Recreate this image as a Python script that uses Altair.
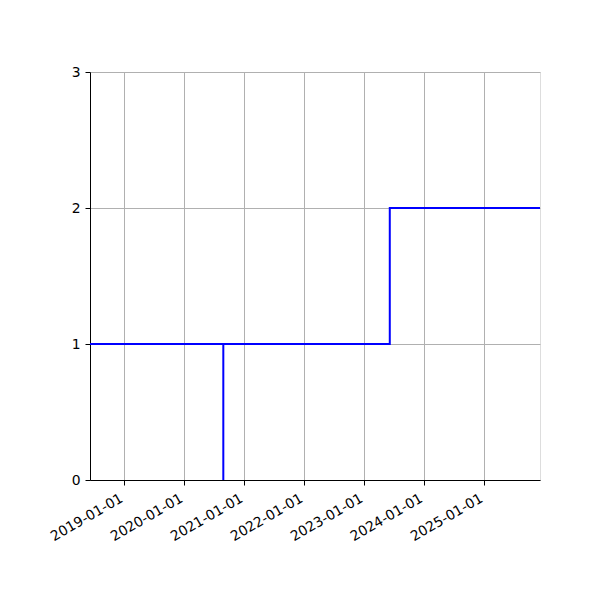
import altair as alt
import pandas as pd

# step data (step-after)
dates = ["2018-06-08T00:00", "2020-08-28T00:00", "2020-08-28T00:00", "2023-06-08T00:00", "2025-12-09T00:00"]
values = [1, 0, 1, 2, 2]
order = [0, 1, 2, 3, 4]

tick_years = [2019, 2020, 2021, 2022, 2023, 2024, 2025]
y_ticks = [0, 1, 2, 3]

df = pd.DataFrame({"date": dates, "value": values, "order": order})

font = "DejaVu Sans"

x_axis = alt.Axis(
    values=[alt.DateTime(year=y, month=1, date=1) for y in tick_years],
    format="%Y-%m-%d",
    title=None,
    labelAngle=-30,
    labelAlign="right",
    labelBaseline="top",
    labelFont=font,
    labelFontSize=13.9,
    labelColor="black",
    labelPadding=6,
    labelOffset=-6,
    tickColor="black",
    tickSize=5,
    tickWidth=1,
    domainColor="black",
    domainWidth=1,
    grid=True,
    gridColor="#b0b0b0",
    gridWidth=1,
    labelOverlap=False,
    labelFlush=False,
)

y_axis = alt.Axis(
    values=y_ticks,
    format="d",
    title=None,
    labelFont=font,
    labelFontSize=13.9,
    labelColor="black",
    labelPadding=5,
    tickColor="black",
    tickSize=5,
    tickWidth=1,
    domainColor="black",
    domainWidth=1,
    grid=True,
    gridColor="#b0b0b0",
    gridWidth=1,
)

chart = alt.Chart(df).mark_line(
    interpolate="step-after", color="#0000ff", strokeWidth=2, clip=True
).encode(
    x=alt.X(
        "date:T",
        scale=alt.Scale(
            domain=[alt.DateTime(year=2018, month=6, date=8), alt.DateTime(year=2025, month=12, date=9)],
            nice=False,
        ),
        axis=x_axis,
    ),
    y=alt.Y("value:Q", scale=alt.Scale(domain=[0, 3], nice=False, zero=False), axis=y_axis),
    order="order:Q",
).properties(
    width=450,
    height=408,
    autosize=alt.AutoSizeParams(type="none"),
    padding={"left": 82, "top": 64, "right": 52, "bottom": 112},
).configure_view(
    stroke="black", strokeWidth=1
).configure(background="white")

chart.save("out.html", embed_options={"renderer": "svg", "actions": False})
